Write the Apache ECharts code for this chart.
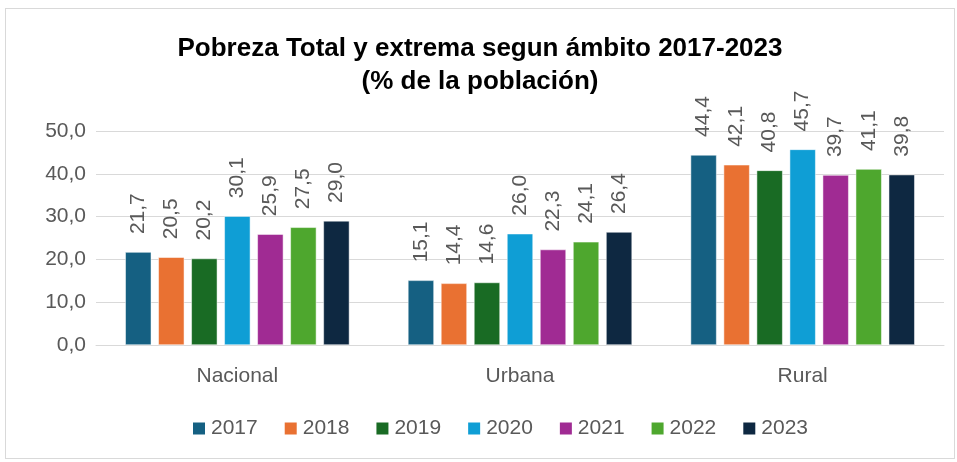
<!DOCTYPE html>
<html>
<head>
<meta charset="utf-8">
<script src="https://cdn.jsdelivr.net/npm/echarts@6/dist/echarts.min.js"></script>
<style>
  html, body { margin: 0; padding: 0; background: #fff; }
  #chart { position: absolute; left: 5px; top: 8px; width: 950px; height: 451px; box-sizing: border-box; border: 1px solid #d9d9d9; }
</style>
</head>
<body>
<div id="chart"></div>
<script>
// ambito categories
const categories = ['Nacional', 'Urbana', 'Rural'];
const years = ['2017', '2018', '2019', '2020', '2021', '2022', '2023'];

// values per year, ordered as categories
const v2017 = [21.7, 15.1, 44.4];
const v2018 = [20.5, 14.4, 42.1];
const v2019 = [20.2, 14.6, 40.8];
const v2020 = [30.1, 26.0, 45.7];
const v2021 = [25.9, 22.3, 39.7];
const v2022 = [27.5, 24.1, 41.1];
const v2023 = [29.0, 26.4, 39.8];

const yTicks = [0, 10, 20, 30, 40, 50];

const colors = ['#156082', '#E97132', '#196B24', '#0F9ED5', '#A02B93', '#4EA72E', '#0E2841'];
const values = [v2017, v2018, v2019, v2020, v2021, v2022, v2023];

const fmt = (v) => v.toFixed(1).replace('.', ',');

const chart = echarts.init(document.getElementById('chart'));

chart.setOption({
  animation: false,
  textStyle: { fontFamily: 'Liberation Sans, Arial, sans-serif' },
  title: {
    text: 'Pobreza Total y extrema segun ámbito 2017-2023\n(% de la población)',
    left: 'center',
    top: 18,
    textStyle: {
      fontSize: 26,
      fontWeight: 'bold',
      color: '#000',
      lineHeight: 33,
      fontFamily: 'Liberation Sans, Arial, sans-serif'
    }
  },
  legend: {
    bottom: 14,
    left: 180,
    itemWidth: 14,
    itemHeight: 14,
    itemGap: 25,
    icon: 'rect',
    textStyle: { fontSize: 21, color: '#595959' },
    data: years
  },
  grid: {
    left: 90,
    right: 10,
    top: 122,
    bottom: 113
  },
  xAxis: {
    type: 'category',
    data: categories,
    axisTick: { show: false },
    axisLine: { lineStyle: { color: '#d9d9d9', width: 1 } },
    axisLabel: { fontSize: 21, color: '#595959', margin: 21 }
  },
  yAxis: {
    type: 'value',
    min: yTicks[0],
    max: yTicks[yTicks.length - 1],
    interval: 10,
    axisLine: { show: false },
    axisTick: { show: false },
    splitLine: { lineStyle: { color: '#d9d9d9', width: 1 } },
    axisLabel: {
      fontSize: 21,
      color: '#595959',
      margin: 10,
      formatter: (v) => fmt(v)
    }
  },
  series: years.map((y, i) => ({
    name: y,
    type: 'bar',
    data: values[i],
    barWidth: 26,
    barGap: '27%',
    itemStyle: { color: colors[i], borderColor: '#ffffff', borderWidth: 0.5 },
    label: {
      show: true,
      position: 'top',
      rotate: 90,
      align: 'left',
      verticalAlign: 'middle',
      distance: 18,
      fontSize: 21,
      color: '#595959',
      formatter: (p) => fmt(p.value)
    }
  }))
});
</script>
</body>
</html>
